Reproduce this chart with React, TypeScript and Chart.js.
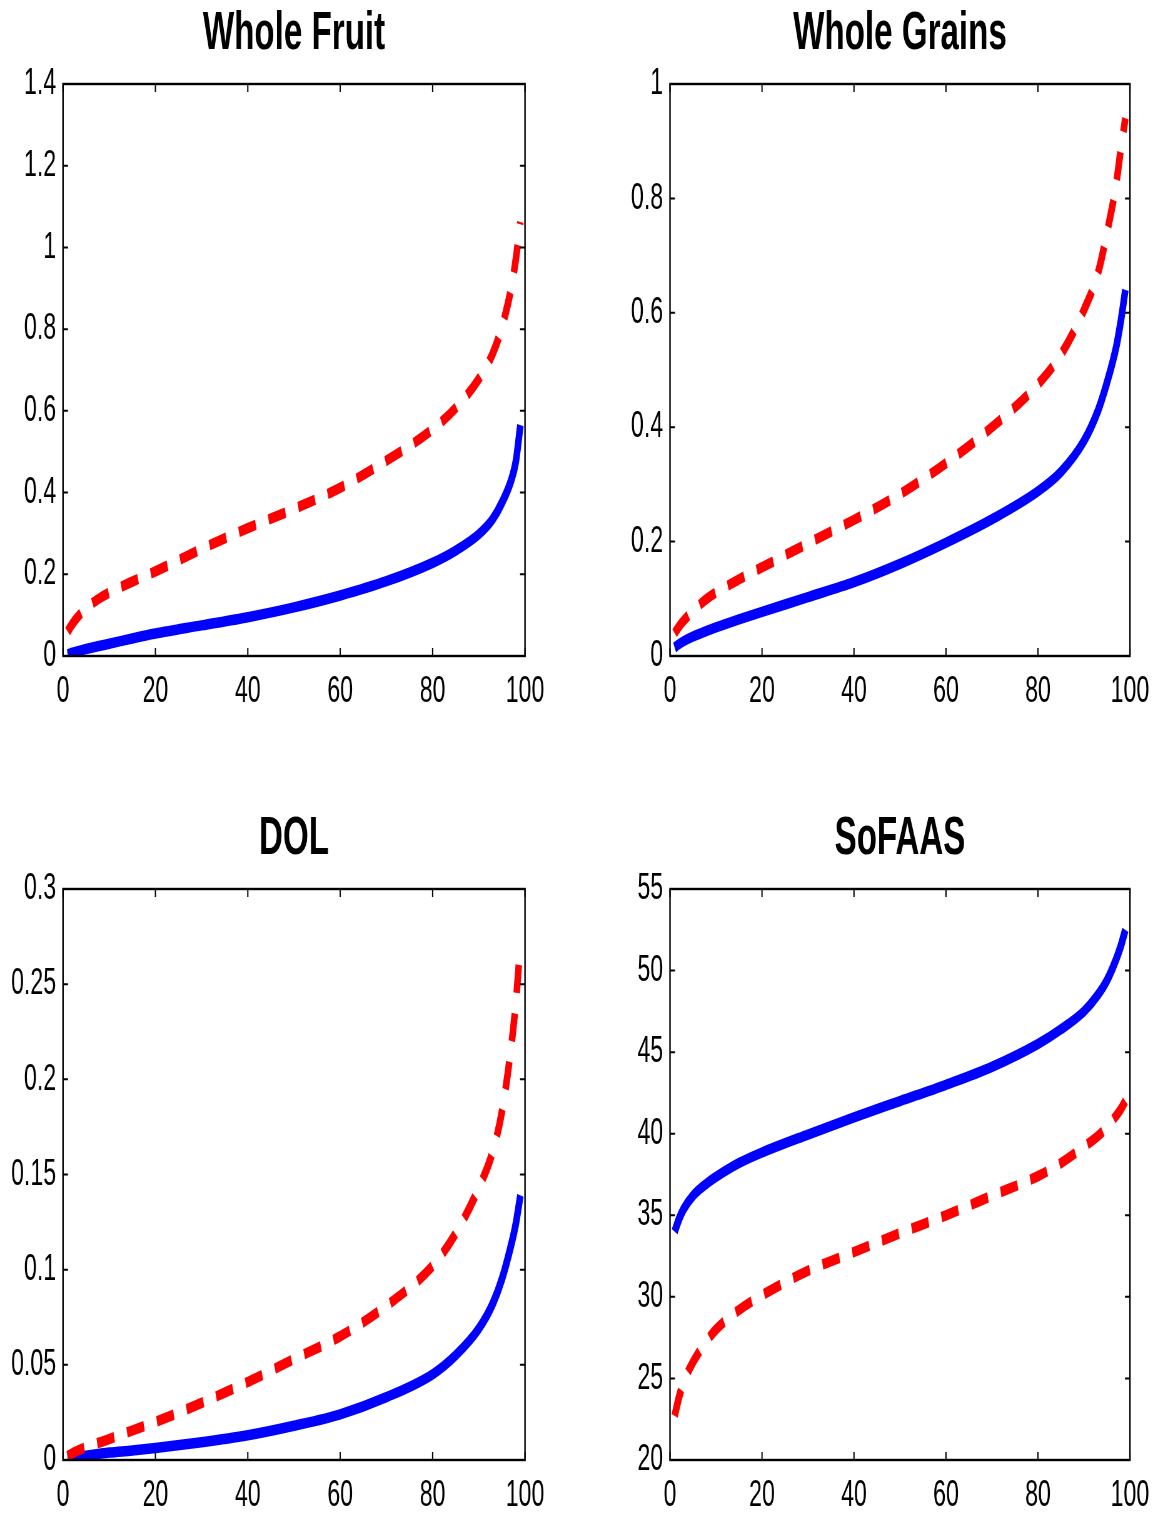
import React, { useEffect, useRef } from "react";
import { Chart, registerables } from "chart.js";
Chart.register(...registerables);

// percentile positions (x axis)
const percentiles = [1, 2, 3, 5, 8, 10, 15, 20, 30, 40, 50, 60, 70, 80, 85, 90, 93, 95, 97, 98, 99];
const xTickValues = [0, 20, 40, 60, 80, 100];

const titles = ["Whole Fruit", "Whole Grains", "DOL", "SoFAAS"];

const wholeFruitBlue = [0.004, 0.008, 0.011, 0.017, 0.025, 0.03, 0.043, 0.055, 0.075, 0.095, 0.119, 0.148, 0.183, 0.228, 0.258, 0.298, 0.335, 0.375, 0.43, 0.475, 0.565];
const wholeFruitRed = [0.06, 0.078, 0.093, 0.117, 0.142, 0.155, 0.182, 0.207, 0.262, 0.313, 0.36, 0.412, 0.478, 0.555, 0.607, 0.678, 0.74, 0.805, 0.9, 0.97, 1.062];

const wholeGrainsBlue = [0.015, 0.021, 0.026, 0.034, 0.044, 0.05, 0.064, 0.077, 0.103, 0.129, 0.161, 0.198, 0.239, 0.288, 0.322, 0.376, 0.428, 0.478, 0.54, 0.585, 0.64];
const wholeGrainsRed = [0.04, 0.052, 0.062, 0.079, 0.1, 0.111, 0.134, 0.155, 0.197, 0.238, 0.283, 0.337, 0.4, 0.475, 0.527, 0.605, 0.668, 0.74, 0.825, 0.885, 0.94];

const dolBlue = [0.0005, 0.001, 0.0015, 0.0023, 0.0033, 0.0039, 0.005, 0.0063, 0.0093, 0.013, 0.018, 0.024, 0.033, 0.045, 0.055, 0.069, 0.082, 0.095, 0.113, 0.124, 0.139];
const dolRed = [0.002, 0.0035, 0.0047, 0.0068, 0.0093, 0.011, 0.0155, 0.02, 0.03, 0.041, 0.053, 0.065, 0.081, 0.102, 0.119, 0.143, 0.162, 0.183, 0.217, 0.24, 0.271];

const sofaasBlue = [34.0, 34.8, 35.4, 36.2, 36.95, 37.35, 38.2, 38.85, 39.95, 41.0, 42.0, 43.0, 44.1, 45.5, 46.4, 47.5, 48.5, 49.4, 50.7, 51.5, 52.5];
const sofaasRed = [22.7, 23.9, 24.8, 26.0, 27.3, 28.0, 29.2, 30.1, 31.6, 32.75, 33.9, 35.0, 36.2, 37.4, 38.2, 39.2, 39.85, 40.4, 41.1, 41.5, 42.0];

const yRanges = [
  { min: 0, max: 1.4, step: 0.2 },
  { min: 0, max: 1, step: 0.2 },
  { min: 0, max: 0.3, step: 0.05 },
  { min: 20, max: 55, step: 5 },
];

const FONT = '"Liberation Sans", Arial, Helvetica, sans-serif';
const CANVAS_W = 579;
const CANVAS_H = 759;
const SQUEEZE = 1.6;

type PanelLayout = { left: number; top: number; plotL: number; plotR: number; plotT: number; plotB: number };

const layouts: PanelLayout[] = [
  { left: 0, top: 0, plotL: 63, plotR: 525, plotT: 84, plotB: 656 },
  { left: 579, top: 0, plotL: 670, plotR: 1132, plotT: 84, plotB: 656 },
  { left: 0, top: 759, plotL: 63, plotR: 525, plotT: 889, plotB: 1460 },
  { left: 579, top: 759, plotL: 670, plotR: 1132, plotT: 889, plotB: 1460 },
];

const seriesBlue = [wholeFruitBlue, wholeGrainsBlue, dolBlue, sofaasBlue];
const seriesRed = [wholeFruitRed, wholeGrainsRed, dolRed, sofaasRed];

const toPoints = (ys: number[]) => percentiles.map((x, i) => ({ x, y: ys[i] }));

const boxPlugin = {
  id: "matlabBox",
  afterDatasetsDraw(chart: any, _args: any, opts: any) {
    const { ctx, chartArea: a, scales } = chart;
    ctx.save();
    ctx.strokeStyle = "#000";
    ctx.lineWidth = 2.4;
    ctx.strokeRect(a.left, a.top, a.right - a.left, a.bottom - a.top);
    const tl = 8;
    ctx.lineWidth = 2;
    ctx.beginPath();
    scales.x.ticks.forEach((t: any) => {
      const px = scales.x.getPixelForValue(t.value);
      ctx.moveTo(px, a.bottom);
      ctx.lineTo(px, a.bottom - tl);
      ctx.moveTo(px, a.top);
      ctx.lineTo(px, a.top + tl);
    });
    scales.y.ticks.forEach((t: any) => {
      const py = scales.y.getPixelForValue(t.value);
      ctx.moveTo(a.left, py);
      ctx.lineTo(a.left + tl, py);
      ctx.moveTo(a.right, py);
      ctx.lineTo(a.right - tl, py);
    });
    ctx.stroke();
    ctx.fillStyle = "#000";
    ctx.font = `bold 53px ${FONT}`;
    ctx.textAlign = "center";
    ctx.textBaseline = "alphabetic";
    ctx.fillText(opts.title || "", (a.left + a.right) / 2, a.top - 35);
    ctx.restore();
  },
};

function Panel({ idx }: { idx: number }) {
  const ref = useRef<HTMLCanvasElement>(null);
  const lay = layouts[idx];
  const iw = Math.round(CANVAS_W * SQUEEZE);
  const k = iw / CANVAS_W;
  useEffect(() => {
    if (!ref.current) return;
    const yW = (lay.plotL - lay.left) * k;
    const padR = (lay.left + CANVAS_W - lay.plotR) * k;
    const padT = lay.plotT - lay.top;
    const xH = lay.top + CANVAS_H - lay.plotB;
    const yr = yRanges[idx];
    const chart = new Chart(ref.current, {
      type: "line",
      data: {
        datasets: [
          {
            data: toPoints(seriesRed[idx]),
            borderColor: "#ff0000",
            borderWidth: 10.5,
            borderDash: [28, 21],
            borderCapStyle: "butt",
            cubicInterpolationMode: "monotone",
            pointRadius: 0,
            fill: false,
          },
          {
            data: toPoints(seriesBlue[idx]),
            borderColor: "#0000ff",
            borderWidth: 10.5,
            borderCapStyle: "butt",
            cubicInterpolationMode: "monotone",
            pointRadius: 0,
            fill: false,
          },
        ],
      },
      options: {
        responsive: false,
        animation: false,
        devicePixelRatio: 1,
        layout: { padding: { left: 0, right: padR, top: padT, bottom: 0 } },
        plugins: {
          legend: { display: false },
          tooltip: { enabled: false },
          title: { display: false },
          matlabBox: { title: titles[idx] },
        } as any,
        scales: {
          x: {
            type: "linear",
            min: 0,
            max: 100,
            grid: { display: false, drawTicks: false },
            border: { display: false },
            afterBuildTicks: (s: any) => {
              s.ticks = xTickValues.map((v) => ({ value: v }));
            },
            ticks: {
              autoSkip: false,
              maxRotation: 0,
              padding: 14,
              color: "#000",
              font: { family: FONT, size: 37, lineHeight: 1.2 },
              callback: (v: any) => String(v),
            },
            afterFit: (s: any) => {
              s.height = xH;
            },
          },
          y: {
            type: "linear",
            min: yr.min,
            max: yr.max,
            grid: { display: false, drawTicks: false },
            border: { display: false },
            ticks: {
              stepSize: yr.step,
              autoSkip: false,
              padding: 11,
              color: "#000",
              font: { family: FONT, size: 37, lineHeight: 1.2 },
              callback: (v: any) => String(Number(Number(v).toFixed(4))),
            },
            afterFit: (s: any) => {
              s.width = yW;
            },
          },
        },
      },
      plugins: [boxPlugin],
    } as any);
    return () => chart.destroy();
  }, []);
  return (
    <canvas
      ref={ref}
      width={iw}
      height={CANVAS_H}
      style={{ position: "absolute", left: lay.left, top: lay.top, width: CANVAS_W, height: CANVAS_H }}
    />
  );
}

export default function App() {
  return (
    <div style={{ position: "absolute", left: 0, top: 0, width: 1158, height: 1518, background: "#fff", overflow: "hidden" }}>
      {[0, 1, 2, 3].map((i) => (
        <Panel key={i} idx={i} />
      ))}
    </div>
  );
}
